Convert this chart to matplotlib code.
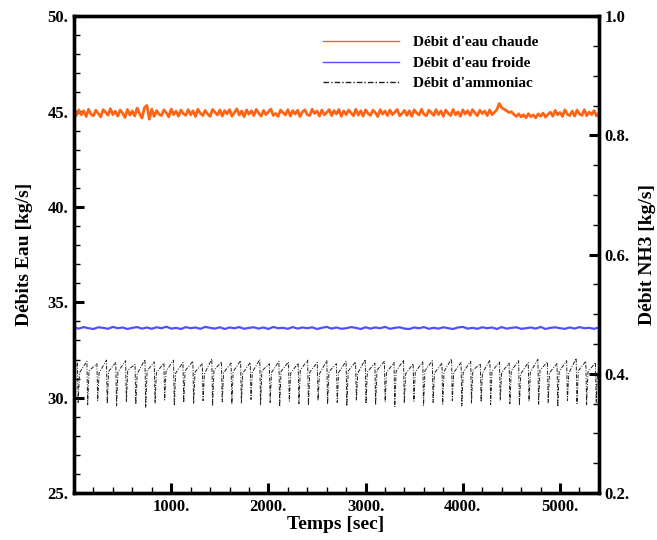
import matplotlib
matplotlib.use("Agg")
import matplotlib.pyplot as plt
from matplotlib.ticker import MultipleLocator, FixedLocator
import numpy as np

plt.rcParams['font.family'] = ['Liberation Serif', 'DejaVu Serif']
plt.rcParams['font.weight'] = 'bold'

# --- data ---
# hot water flow, one reading every 25 s
t_hot = np.arange(0, 5401, 25)
q_hot = [44.98, 44.80, 45.09, 44.83, 45.04, 44.74, 45.12, 44.86, 44.78, 45.07, 44.90, 44.72,
         45.10, 44.96, 44.81, 45.15, 44.84, 45.02, 44.76, 45.08, 44.92, 44.69, 45.11, 44.82,
         45.03, 44.77, 45.18, 44.88, 44.66, 45.20, 45.32, 44.60, 45.12, 44.75, 45.05, 44.86,
         44.79, 45.09, 44.94, 44.72, 45.13, 44.84, 45.02, 44.76, 45.08, 44.89, 44.80, 45.10,
         44.83, 45.04, 44.74, 45.12, 44.91, 44.79, 45.06, 44.87, 44.75, 45.11, 44.97, 44.82,
         45.08, 44.77, 45.05, 44.88, 45.10, 44.76, 44.95, 45.14, 44.82, 45.03, 44.73, 45.09,
         44.86, 45.04, 44.79, 45.11, 44.92, 44.76, 45.06, 44.84, 44.99, 45.13, 44.80, 44.90,
         44.75, 45.08, 44.95, 44.82, 45.10, 44.77, 45.05, 44.87, 45.07, 44.74, 44.98, 45.09,
         44.84, 44.79, 45.12, 44.90, 45.03, 44.76, 45.08, 44.83, 44.95, 45.10, 44.79, 45.05,
         44.87, 45.11, 44.75, 45.03, 44.84, 45.08, 44.93, 44.78, 45.12, 44.82, 45.04, 44.76,
         45.09, 44.90, 44.80, 45.07, 44.95, 44.74, 45.10, 44.87, 45.03, 44.79, 45.08, 44.84,
         44.97, 45.11, 44.78, 44.90, 45.06, 44.80, 45.04, 44.75, 45.09, 44.93, 44.82, 45.12,
         44.86, 44.78, 45.07, 44.95, 44.80, 45.10, 44.84, 45.03, 44.76, 45.08, 44.90, 44.79,
         45.11, 44.83, 44.98, 44.75, 45.09, 44.87, 45.04, 44.80, 45.10, 44.93, 44.78, 45.07,
         44.90, 45.03, 44.79, 45.08, 44.84, 44.96, 45.10, 45.42, 45.20, 45.12, 45.04, 44.95,
         44.99, 44.85, 44.74, 44.88, 44.72, 44.83, 44.68, 44.89, 44.73, 44.82, 44.67, 44.88,
         44.76, 44.92, 44.71, 44.85, 44.97, 44.76, 45.06, 44.83, 44.95, 44.75, 45.09, 44.86,
         44.79, 45.03, 44.76, 45.08, 44.88, 44.80, 45.10, 44.78, 44.97, 44.84, 45.05, 44.77,
         44.92]

# cold water flow, one reading every 50 s
t_cold = np.arange(0, 5401, 50)
q_cold = [33.68, 33.62, 33.70, 33.64, 33.60, 33.69, 33.66, 33.61, 33.71, 33.64, 33.68, 33.60,
          33.66, 33.70, 33.62, 33.68, 33.61, 33.69, 33.64, 33.72, 33.62, 33.66, 33.60, 33.70,
          33.64, 33.68, 33.61, 33.71, 33.66, 33.62, 33.69, 33.60, 33.68, 33.64, 33.70, 33.61,
          33.66, 33.69, 33.62, 33.68, 33.60, 33.71, 33.64, 33.66, 33.61, 33.70, 33.62, 33.68,
          33.64, 33.69, 33.60, 33.66, 33.71, 33.62, 33.68, 33.61, 33.64, 33.70, 33.66, 33.60,
          33.69, 33.62, 33.68, 33.64, 33.71, 33.61, 33.66, 33.69, 33.62, 33.60, 33.68, 33.64,
          33.70, 33.61, 33.66, 33.62, 33.69, 33.64, 33.60, 33.68, 33.71, 33.62, 33.66, 33.61,
          33.69, 33.64, 33.68, 33.60, 33.70, 33.62, 33.66, 33.69, 33.61, 33.64, 33.68, 33.62,
          33.71, 33.60, 33.66, 33.69, 33.64, 33.61, 33.68, 33.62, 33.70, 33.64, 33.66, 33.61,
          33.68]

# ammonia flow: peak, trough, recovered point of every cycle
t_nh3 = [0, 35, 43, 57, 133, 141, 155, 236, 244, 258, 334, 342, 356,
         430, 438, 452, 531, 539, 553, 628, 636, 650, 730, 738, 752,
         826, 834, 848, 925, 933, 947, 1024, 1032, 1046, 1121, 1129, 1143,
         1223, 1231, 1245, 1320, 1328, 1342, 1418, 1426, 1440, 1517, 1525, 1539,
         1616, 1624, 1638, 1714, 1722, 1736, 1813, 1821, 1835, 1911, 1919, 1933,
         2010, 2018, 2032, 2108, 2116, 2130, 2207, 2215, 2229, 2306, 2314, 2328,
         2404, 2412, 2426, 2503, 2511, 2525, 2601, 2609, 2623, 2700, 2708, 2722,
         2799, 2807, 2821, 2897, 2905, 2919, 2996, 3004, 3018, 3095, 3103, 3117,
         3193, 3201, 3215, 3292, 3300, 3314, 3390, 3398, 3412, 3489, 3497, 3511,
         3588, 3596, 3610, 3686, 3694, 3708, 3785, 3793, 3807, 3884, 3892, 3906,
         3982, 3990, 4004, 4081, 4089, 4103, 4180, 4188, 4202, 4278, 4286, 4300,
         4377, 4385, 4399, 4476, 4484, 4498, 4574, 4582, 4596, 4673, 4681, 4695,
         4772, 4780, 4794, 4870, 4878, 4892, 4969, 4977, 4991, 5068, 5076, 5090,
         5166, 5174, 5188, 5265, 5273, 5287, 5364, 5372, 5386]
q_nh3 = [0.405, 0.418, 0.352, 0.402, 0.421, 0.348, 0.405, 0.417, 0.355, 0.401, 0.423, 0.350, 0.404,
         0.419, 0.346, 0.403, 0.422, 0.353, 0.406, 0.416, 0.349, 0.400, 0.424, 0.344, 0.405,
         0.420, 0.351, 0.402, 0.418, 0.356, 0.404, 0.423, 0.347, 0.401, 0.419, 0.352, 0.405,
         0.421, 0.350, 0.403, 0.417, 0.355, 0.400, 0.425, 0.346, 0.406, 0.420, 0.353, 0.402,
         0.418, 0.349, 0.404, 0.422, 0.351, 0.401, 0.419, 0.357, 0.403, 0.424, 0.348, 0.405,
         0.417, 0.352, 0.402, 0.421, 0.345, 0.404, 0.420, 0.354, 0.401, 0.418, 0.350, 0.406,
         0.423, 0.347, 0.403, 0.419, 0.355, 0.400, 0.422, 0.349, 0.404, 0.417, 0.352, 0.402,
         0.421, 0.346, 0.405, 0.420, 0.356, 0.401, 0.424, 0.350, 0.403, 0.418, 0.348, 0.406,
         0.421, 0.353, 0.402, 0.419, 0.345, 0.404, 0.423, 0.351, 0.400, 0.417, 0.354, 0.403,
         0.420, 0.347, 0.405, 0.422, 0.352, 0.401, 0.418, 0.349, 0.404, 0.425, 0.355, 0.402,
         0.419, 0.346, 0.403, 0.421, 0.351, 0.406, 0.417, 0.353, 0.401, 0.423, 0.348, 0.404,
         0.420, 0.356, 0.402, 0.418, 0.350, 0.405, 0.422, 0.347, 0.400, 0.419, 0.354, 0.403,
         0.424, 0.349, 0.406, 0.420, 0.352, 0.402, 0.417, 0.345, 0.404, 0.422, 0.355, 0.401,
         0.426, 0.350, 0.405, 0.421, 0.348, 0.403, 0.419, 0.352, 0.404]

x_ticks = [1000, 2000, 3000, 4000, 5000]
x_labels = ["1000.", "2000.", "3000.", "4000.", "5000."]
left_ticks = [25, 30, 35, 40, 45, 50]
left_labels = ["25.", "30.", "35.", "40.", "45.", "50."]
right_ticks = [0.2, 0.4, 0.6, 0.8, 1.0]
right_labels = ["0.2.", "0.4.", "0.6.", "0.8.", "1.0"]

fig = plt.figure(figsize=(6.57, 5.4), dpi=100)
ax = fig.add_axes([0.1126, 0.087, 0.799, 0.883])
ax2 = ax.twinx()

l1, = ax.plot(t_hot, q_hot, color='#ff6414', lw=2.0)
l2, = ax.plot(t_cold, q_cold, color='#4f4fff', lw=1.6)
l3, = ax2.plot(t_nh3, q_nh3, color='#202020', lw=0.7, linestyle=(0, (4, 1.5, 1, 1.5)))

ax.set_xlim(0, 5400)
ax.set_ylim(25, 50)
ax2.set_ylim(0.2, 1.0)

ax.xaxis.set_major_locator(FixedLocator(x_ticks))
ax.set_xticklabels(x_labels)
ax.xaxis.set_minor_locator(MultipleLocator(200))
ax.yaxis.set_major_locator(FixedLocator(left_ticks))
ax.set_yticklabels(left_labels)
ax.yaxis.set_minor_locator(MultipleLocator(1))
ax2.yaxis.set_major_locator(FixedLocator(right_ticks))
ax2.set_yticklabels(right_labels)
ax2.yaxis.set_minor_locator(MultipleLocator(0.05))

for a in (ax, ax2):
    a.tick_params(which='major', direction='in', length=7, width=2.2, labelsize=12, pad=4)
    a.tick_params(which='minor', direction='in', length=4.5, width=1.0)
    for s in a.spines.values():
        s.set_linewidth(2.4)
ax.tick_params(axis='y', which='both', right=False)
ax.tick_params(axis='x', which='both', top=False)

ax.set_xlabel("Temps [sec]", fontsize=14, fontweight='bold')
ax.set_ylabel("Débits Eau [kg/s]", fontsize=14, fontweight='bold')
ax2.set_ylabel("Débit NH3 [kg/s]", fontsize=14, fontweight='bold')
ax.xaxis.set_label_coords(0.499, -0.048)
ax.yaxis.set_label_coords(-0.078, 0.5)
ax2.yaxis.set_label_coords(1.0765, 0.5)

leg = ax2.legend([l1, l2, l3], ["Débit d'eau chaude", "Débit d'eau froide", "Débit d'ammoniac"],
                 loc='upper left', bbox_to_anchor=(0.491, 0.934), bbox_transform=fig.transFigure,
                 frameon=False, borderpad=0, borderaxespad=0, handlelength=5.0,
                 handletextpad=0.9, labelspacing=0.45, prop={'size': 11, 'weight': 'bold'})
for h in leg.get_lines():
    h.set_linewidth(1.0)

fig.savefig("out.png", dpi=100)
